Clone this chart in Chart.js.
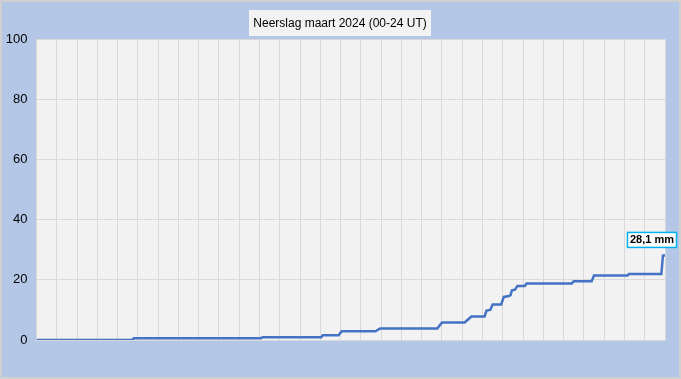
<!DOCTYPE html>
<html>
<head>
<meta charset="utf-8">
<script src="https://cdn.jsdelivr.net/npm/chart.js@4.4.1/dist/chart.umd.min.js"></script>
<style>
  html, body { margin: 0; padding: 0; background: #b4c7e7; }
  #wrap { width: 681px; height: 379px; position: relative; }
  canvas { display: block; }
</style>
</head>
<body>
<div id="wrap"><canvas id="c" width="681" height="379"></canvas></div>
<script>
// Time in days since 1 March 00 UT, cumulative precipitation in mm
const dayTimes = [0, 4.72, 4.8, 11.07, 11.15, 14.04, 14.12, 14.9, 15.05, 16.72, 16.95,
  19.77, 20.0, 21.12, 21.45, 22.1, 22.2, 22.38, 22.5, 22.92, 23.05, 23.3, 23.38, 23.45,
  23.6, 23.72, 24.08, 24.18, 26.4, 26.5, 27.38, 27.5, 29.15, 29.22, 30.82, 30.9, 31];
const cumulativeMm = [0, 0, 0.6, 0.6, 0.9, 0.9, 1.55, 1.55, 2.9, 2.9, 3.85,
  3.85, 5.85, 5.85, 7.8, 7.8, 9.8, 10.0, 11.8, 11.8, 14.3, 14.6, 14.9, 16.5,
  16.7, 17.9, 17.9, 18.8, 18.8, 19.5, 19.5, 21.4, 21.4, 21.9, 21.9, 28.1, 28.1];
const yTicks = [0, 20, 40, 60, 80, 100];
const titleText = 'Neerslag maart 2024 (00-24 UT)';
const totalLabel = '28,1 mm';

const points = dayTimes.map((t, i) => ({ x: t, y: cumulativeMm[i] }));

const bgPlugin = {
  id: 'bg',
  beforeDraw(chart) {
    const { ctx, chartArea: a, width, height } = chart;
    ctx.save();
    ctx.fillStyle = '#b4c7e7';
    ctx.fillRect(0, 0, width, height);
    ctx.strokeStyle = '#d0d0d0';
    ctx.lineWidth = 2;
    ctx.strokeRect(1, 1, width - 2, height - 2);
    ctx.fillStyle = '#f2f2f2';
    ctx.fillRect(a.left, a.top, a.right - a.left, a.bottom - a.top);
    ctx.restore();
  }
};

const annPlugin = {
  id: 'ann',
  afterDraw(chart) {
    const { ctx } = chart;
    ctx.save();
    // title box
    ctx.fillStyle = '#f2f2f2';
    ctx.fillRect(249, 10, 182, 26);
    ctx.fillStyle = '#000';
    ctx.font = '12px "Liberation Sans", Arial, sans-serif';
    ctx.textAlign = 'center';
    ctx.textBaseline = 'middle';
    ctx.fillText(titleText, 340, 23.5);
    // total label near last point
    const xs = chart.scales.x, ys = chart.scales.y;
    const lx = xs.getPixelForValue(dayTimes[dayTimes.length - 1]);
    const ly = ys.getPixelForValue(cumulativeMm[cumulativeMm.length - 1]);
    const bx = lx - 37.5, by = ly - 23, bw = 49, bh = 15;
    ctx.fillStyle = '#ffffff';
    ctx.fillRect(bx, by, bw, bh);
    ctx.strokeStyle = '#00b0f0';
    ctx.lineWidth = 1.5;
    ctx.strokeRect(bx, by, bw, bh);
    ctx.fillStyle = '#000';
    ctx.font = 'bold 11px "Liberation Sans", Arial, sans-serif';
    ctx.fillText(totalLabel, bx + bw / 2, by + bh / 2 + 0.5);
    ctx.restore();
  }
};

new Chart(document.getElementById('c'), {
  type: 'line',
  data: {
    datasets: [{
      data: points,
      borderColor: '#4472c4',
      borderWidth: 2.5,
      pointRadius: 0,
      tension: 0,
      fill: false
    }]
  },
  options: {
    responsive: false,
    animation: false,
    layout: { padding: { top: 39, right: 16, left: 0, bottom: 0 } },
    plugins: { legend: { display: false }, title: { display: false }, tooltip: { enabled: false } },
    scales: {
      x: {
        type: 'linear', min: 0, max: 31,
        ticks: { display: false, stepSize: 1 },
        grid: { color: '#d9d9d9', lineWidth: 1, drawTicks: false },
        border: { color: '#d9d9d9', width: 1 },
        afterFit(s) { s.height = 39; }
      },
      y: {
        min: 0, max: 100,
        afterBuildTicks(s) { s.ticks = yTicks.map(v => ({ value: v })); },
        ticks: { color: '#000', font: { family: '"Liberation Sans", Arial, sans-serif', size: 13 }, padding: 9 },
        grid: { color: '#d9d9d9', lineWidth: 1, drawTicks: false },
        border: { color: '#d9d9d9', width: 1 },
        afterFit(s) { s.width = 36.5; }
      }
    }
  },
  plugins: [bgPlugin, annPlugin]
});
</script>
</body>
</html>
